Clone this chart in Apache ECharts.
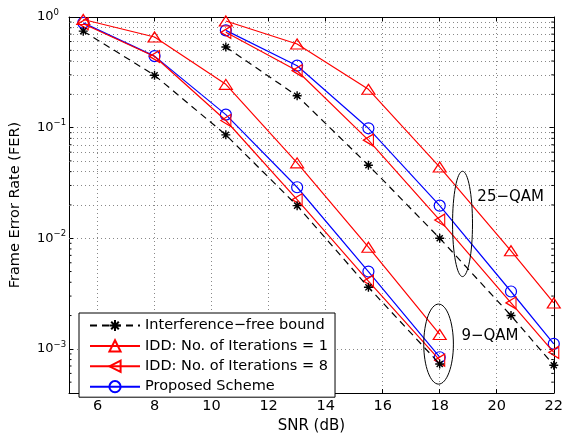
<!DOCTYPE html>
<html><head><meta charset="utf-8">
<script src="https://cdn.jsdelivr.net/npm/echarts@6/dist/echarts.min.js"></script>
<style>html,body{margin:0;padding:0;background:#fff}#c{width:566px;height:439px}</style>
</head><body><div id="c"></div>
<script>
// ---- data ----
const snr9 = [5.5, 8, 10.5, 13, 15.5, 18];
const snr25 = [10.5, 13, 15.5, 18, 20.5, 22];
const bound9 = [0.745, 0.297, 0.086, 0.0197, 0.0036, 0.00073];
const bound25 = [0.535, 0.194, 0.0457, 0.0100, 0.0020, 0.00071];
const idd1_9 = [0.95, 0.66, 0.246, 0.048, 0.0083, 0.00135];
const idd1_25 = [0.92, 0.57, 0.222, 0.044, 0.0077, 0.0026];
const idd8_9 = [0.87, 0.44, 0.116, 0.0223, 0.0041, 0.00079];
const idd8_25 = [0.727, 0.327, 0.077, 0.0146, 0.0026, 0.00093];
const prop9 = [0.885, 0.443, 0.131, 0.0289, 0.0050, 0.00084];
const prop25 = [0.757, 0.363, 0.0986, 0.0197, 0.0033, 0.00111];
const names = ['Interference\u2212free bound', 'IDD: No. of Iterations = 1', 'IDD: No. of Iterations = 8', 'Proposed Scheme'];
const xMin = 5, xMax = 22;
const yMinExp = -3.4, yMax = 1;
const minorMantissas = [2, 3, 4, 5, 6, 7, 8, 9];
const labels = [{text: '25\u2212QAM', x: 19.32, y: 0.0233}, {text: '9\u2212QAM', x: 18.76, y: 0.0013}];
const ellipses = [{x: [18.45, 19.15], y: [0.0403, 0.0045]}, {x: [17.44, 18.48], y: [0.00254, 0.00048]}];

const yMin = Math.pow(10, yMinExp);
const FONT = '"DejaVu Sans", sans-serif';
const minorVals = [];
for (let k = -4; k <= -1; k++) for (const m of minorMantissas) {
  const v = m * Math.pow(10, k);
  if (v > yMin * 1.01 && v < yMax) minorVals.push(v);
}
const pair = (xs, ys) => xs.map((x, i) => [x, ys[i]]);

const symAst = 'path://M5 0 L5 10 M0 5 L10 5 M1.6 1.6 L8.4 8.4 M8.4 1.6 L1.6 8.4';
const symUp = 'path://M5 0 L10 9 L0 9 Z';
const symLeft = 'path://M0 5 L9 0 L9 10 Z';

const styles = [
  {color: '#000', symbol: symAst, size: 9, dash: [7, 5], fill: '#000', bw: 1.4},
  {color: '#ff0000', symbol: symUp, size: [13, 10], dash: 'solid', fill: 'rgba(255,0,0,0)', bw: 1.2},
  {color: '#ff0000', symbol: symLeft, size: [10, 12], dash: 'solid', fill: 'rgba(255,0,0,0)', bw: 1.2},
  {color: '#0000ff', symbol: 'circle', size: 11, dash: 'solid', fill: 'rgba(0,0,255,0)', bw: 1.2}
];
const groups = [[bound9, bound25], [idd1_9, idd1_25], [idd8_9, idd8_25], [prop9, prop25]];

const series = [];
groups.forEach((g, i) => {
  const s = styles[i];
  [[snr9, g[0]], [snr25, g[1]]].forEach(([xs, ys]) => {
    series.push({
      type: 'line', name: names[i], data: pair(xs, ys), z: 3 + (3 - i),
      symbol: s.symbol, symbolSize: s.size, symbolKeepAspect: false,
      lineStyle: {color: s.color, width: 1.2, type: s.dash},
      itemStyle: {color: s.fill, borderColor: s.color, borderWidth: s.bw},
      emphasis: {disabled: true}, animation: false, clip: false
    });
  });
});
// minor grid lines of the log axis
series.push({
  type: 'line', name: '__grid', data: [], silent: true, animation: false,
  markLine: {
    silent: true, symbol: ['none', 'none'], label: {show: false}, z: 1, animation: false,
    lineStyle: {type: [1, 3], color: '#888', width: 1},
    emphasis: {disabled: true},
    data: minorVals.map(v => ({yAxis: v}))
  }
});

const gridLine = {show: true, lineStyle: {type: [1, 3], color: '#888', width: 1}};
const axisLine = {show: true, onZero: false, lineStyle: {color: '#000', width: 1}};
const yFmt = v => {
  const l = Math.log10(v), e = Math.round(l);
  if (Math.abs(l - e) > 1e-6) return '';
  return '{b|10}{e|' + (e < 0 ? '\u2212' + (-e) : e) + '}';
};

const option = {
  backgroundColor: '#fff',
  animation: false,
  grid: {left: 65, right: 10, top: 17, bottom: 37, containLabel: false},
  legend: {
    data: names, orient: 'vertical', left: 79, top: 313,
    padding: [5, 7, 3, 10], itemWidth: 50, itemHeight: 14, itemGap: 5.4,
    borderColor: '#000', borderWidth: 1, backgroundColor: '#fff', borderRadius: 0,
    textStyle: {fontFamily: FONT, fontSize: 14.5, color: '#000'},
    selectedMode: false, z: 20
  },
  xAxis: [{
    type: 'value', min: xMin, max: xMax, minInterval: 2, maxInterval: 2,
    name: 'SNR (dB)', nameLocation: 'middle', nameGap: 23,
    nameTextStyle: {fontFamily: FONT, fontSize: 15, color: '#000'},
    axisLine: axisLine, axisTick: {show: true, inside: true, length: 4, lineStyle: {color: '#000'}},
    axisLabel: {fontFamily: FONT, fontSize: 14.5, color: '#000', margin: 6, showMinLabel: false},
    splitLine: gridLine
  }, {
    type: 'value', min: xMin, max: xMax, minInterval: 2, maxInterval: 2, position: 'top',
    axisLine: axisLine, axisTick: {show: true, inside: true, length: 4, lineStyle: {color: '#000'}},
    axisLabel: {show: false}, splitLine: {show: false}
  }],
  yAxis: [{
    type: 'log', min: yMin, max: yMax, logBase: 10,
    name: 'Frame Error Rate (FER)', nameLocation: 'middle', nameGap: 46,
    nameTextStyle: {fontFamily: FONT, fontSize: 14.5, color: '#000'},
    axisLine: axisLine, axisTick: {show: true, inside: true, length: 4, lineStyle: {color: '#000'}},
    axisLabel: {
      formatter: yFmt, align: 'left', margin: 32, showMinLabel: false,
      rich: {b: {fontFamily: FONT, fontSize: 13, color: '#000'}, e: {fontFamily: FONT, fontSize: 8.5, color: '#000', padding: [0, 0, 9, 0]}}
    },
    splitLine: gridLine
  }, {
    type: 'log', min: yMin, max: yMax, logBase: 10, position: 'right',
    axisLine: axisLine, axisTick: {show: true, inside: true, length: 4, lineStyle: {color: '#000'}},
    axisLabel: {show: false}, splitLine: {show: false}
  }],
  series: series
};

const chart = echarts.init(document.getElementById('c'), null, {renderer: 'canvas'});
chart.setOption(option);

// annotations and minor ticks positioned through the chart's scales
const px = (x, y) => chart.convertToPixel({xAxisIndex: 0, yAxisIndex: 0}, [x, y]);
const g = [];
const L = px(xMin, 1)[0], R = px(xMax, 1)[0];
minorVals.forEach(v => {
  const y = px(xMin, v)[1];
  g.push({type: 'line', silent: true, z: 15, shape: {x1: L, y1: y, x2: L + 2.5, y2: y}, style: {stroke: '#000', lineWidth: 1}});
  g.push({type: 'line', silent: true, z: 15, shape: {x1: R, y1: y, x2: R - 2.5, y2: y}, style: {stroke: '#000', lineWidth: 1}});
});
ellipses.forEach(e => {
  const p1 = px(e.x[0], e.y[0]), p2 = px(e.x[1], e.y[1]);
  g.push({type: 'ellipse', silent: true, z: 15,
    shape: {cx: (p1[0] + p2[0]) / 2, cy: (p1[1] + p2[1]) / 2, rx: Math.abs(p2[0] - p1[0]) / 2, ry: Math.abs(p2[1] - p1[1]) / 2},
    style: {fill: 'none', stroke: '#000', lineWidth: 1}});
});
labels.forEach(t => {
  const p = px(t.x, t.y);
  g.push({type: 'text', silent: true, z: 15, x: p[0], y: p[1],
    style: {text: t.text, font: '15px ' + FONT, fill: '#000', verticalAlign: 'middle', align: 'left'}});
});
chart.setOption({graphic: g});
</script></body></html>
